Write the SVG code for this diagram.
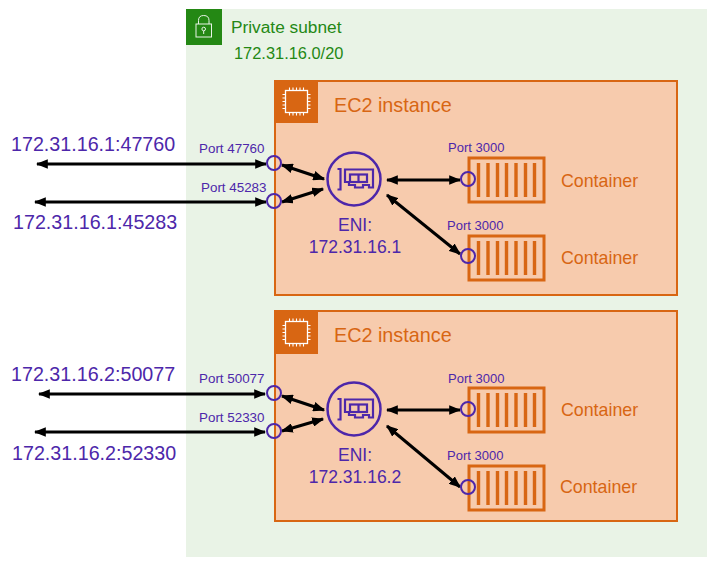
<svg xmlns="http://www.w3.org/2000/svg" width="721" height="575" viewBox="0 0 721 575">
<style>
text{font-family:"Liberation Sans",Arial,sans-serif}
.ip{font-size:19.700px;fill:#4d27aa}
.port{font-size:13.400px;fill:#4d27aa}
.p3{font-size:13px;fill:#4d27aa}
.eni{font-size:17.500px;fill:#4d27aa;text-anchor:middle}
.title{font-size:19.800px;fill:#d86613}
.ct{font-size:17.800px;fill:#d86613}
.box{fill:#f7cbad;stroke:#d86613;stroke-width:2}
.circ{fill:none;stroke:#4d27aa;stroke-width:2}
.ring{fill:none;stroke:#4d27aa;stroke-width:2.500}
.icon{fill:none;stroke:#4d27aa;stroke-width:2.200}
.c{fill:none;stroke:#d86613;stroke-width:3}
.a{stroke:#000;stroke-width:3;fill:none;marker-start:url(#h);marker-end:url(#h)}
</style>
<defs>
<marker id="h" viewBox="0 0 10 8" refX="9" refY="4" markerWidth="4" markerHeight="3.200" orient="auto-start-reverse"><path d="M0 0L10 4L0 8Z" fill="#000"/></marker>
<g id="chip"><rect x="0" y="0" width="43" height="43" fill="#d86613"/><rect x="10.500" y="10.500" width="22" height="22" fill="none" stroke="#fff" stroke-width="1.300"/><path d="M14.500 10.500V7.500M18 10.500V7.500M21.500 10.500V7.500M25 10.500V7.500M28.500 10.500V7.500M14.500 35.500V32.500M18 35.500V32.500M21.500 35.500V32.500M25 35.500V32.500M28.500 35.500V32.500M7.500 14.500H10.500M7.500 18H10.500M7.500 21.500H10.500M7.500 25H10.500M7.500 28.500H10.500M32.500 14.500H35.500M32.500 18H35.500M32.500 21.500H35.500M32.500 25H35.500M32.500 28.500H35.500" stroke="#fff" stroke-width="1.100" fill="none"/></g>
<g id="cont"><rect x="-1" y="0" width="75" height="44" class="c"/><path d="M8.500 5V39M18 5V39M27.500 5V39M36.500 5V39M46 5V39M55.500 5V39M64.500 5V39" stroke="#d86613" stroke-width="3.400" fill="none"/></g>
<g id="nic"><circle cx="0" cy="0" r="26.500" class="ring"/><path d="M-16.500 -10H-13.500V10.500H-16.500M-9 -9.500H19V8.500H15V6H9V8.500H1V6H-5V3H-9Z" class="icon"/><rect x="-4" y="-4.500" width="17" height="7.500" class="icon"/><path d="M4.500 -4.500V3" class="icon"/></g>
</defs>
<g id="subnet"><rect x="186" y="9" width="521" height="548" fill="#e9f3e6"/><rect x="186" y="9" width="36" height="36" fill="#248814"/><g fill="none" stroke="#fff" stroke-width="1" opacity=".9"><rect x="196" y="24" width="15.500" height="13"/><path d="M198.500 24V20.500Q198.500 15.500 203.700 15.500Q209 15.500 209 20.500V24"/><circle cx="203.700" cy="29" r="1.800"/><path d="M203.700 31V34"/></g>
<text x="231" y="33" font-size="17.300" fill="#248814">Private subnet</text><text x="234" y="59" font-size="16.400" fill="#248814">172.31.16.0/20</text></g>
<g id="ec2-1"><rect x="275" y="81" width="402" height="214" class="box"/><use href="#chip" x="275" y="80"/><text x="334" y="112" class="title">EC2 instance</text></g>
<g id="ec2-2"><rect x="275" y="311" width="402" height="210" class="box"/><use href="#chip" x="275" y="311"/><text x="334" y="342" class="title">EC2 instance</text></g>
<g id="connectors">
<path d="M37 164H266" class="a"/><path d="M35 202H266" class="a"/>
<path d="M282 165L324 179" class="a"/><path d="M282 202L323 189" class="a"/>
<path d="M387 180H460" class="a"/><path d="M387 195L460 254" class="a"/>
<path d="M39 394H265" class="a"/><path d="M35 432H265" class="a"/>
<path d="M282 396L324 410" class="a"/><path d="M282 431L323 419" class="a"/>
<path d="M387 410H460" class="a"/><path d="M387 426L460 487" class="a"/>
</g>
<g id="left-labels-1"><text x="11" y="151" class="ip">172.31.16.1:47760</text><text x="13" y="229" class="ip">172.31.16.1:45283</text></g>
<g id="left-labels-2"><text x="11" y="381" class="ip">172.31.16.2:50077</text><text x="12" y="460" class="ip">172.31.16.2:52330</text></g>
<g id="ports-1"><text x="199" y="153" class="port">Port 47760</text><text x="201" y="192" class="port">Port 45283</text><circle cx="274" cy="163" r="7" class="circ"/><circle cx="274" cy="201" r="7" class="circ"/></g>
<g id="ports-2"><text x="199" y="383" class="port">Port 50077</text><text x="199" y="422" class="port">Port 52330</text><circle cx="274" cy="393" r="7" class="circ"/><circle cx="274" cy="431" r="7" class="circ"/></g>
<g id="eni-1"><use href="#nic" x="354" y="179"/><text x="355" y="231" class="eni">ENI:</text><text x="355" y="253" class="eni">172.31.16.1</text></g>
<g id="eni-2"><use href="#nic" x="354" y="409"/><text x="355" y="461" class="eni">ENI:</text><text x="355" y="483" class="eni">172.31.16.2</text></g>
<g id="container-1"><use href="#cont" x="470" y="158"/><text x="448" y="152" class="p3">Port 3000</text><circle cx="468" cy="179" r="7" class="circ"/><text x="561" y="187" class="ct">Container</text></g>
<g id="container-2"><use href="#cont" x="470" y="236"/><text x="447" y="230" class="p3">Port 3000</text><circle cx="468" cy="256" r="7" class="circ"/><text x="561" y="264" class="ct">Container</text></g>
<g id="container-3"><use href="#cont" x="470" y="388"/><text x="448" y="383" class="p3">Port 3000</text><circle cx="468" cy="409" r="7" class="circ"/><text x="561" y="416" class="ct">Container</text></g>
<g id="container-4"><use href="#cont" x="470" y="466"/><text x="447" y="460" class="p3">Port 3000</text><circle cx="468" cy="487" r="7" class="circ"/><text x="560" y="493" class="ct">Container</text></g>
</svg>
